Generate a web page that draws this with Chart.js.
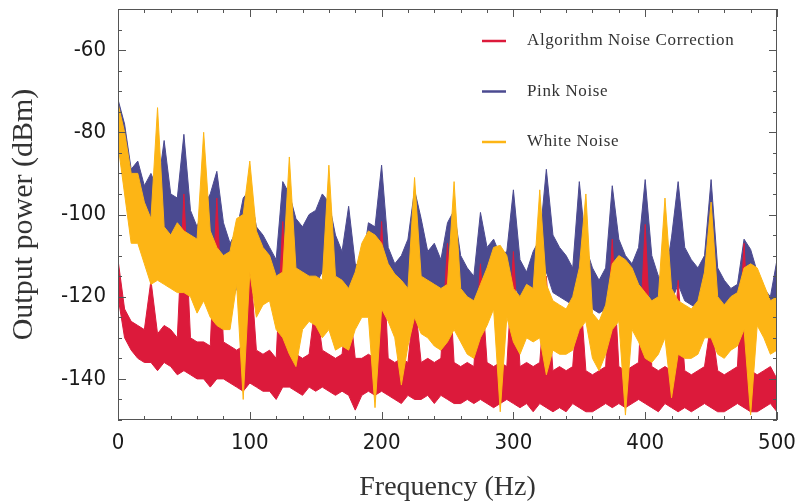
<!DOCTYPE html>
<html>
<head>
<meta charset="utf-8">
<script src="https://cdn.jsdelivr.net/npm/chart.js@4.4.0/dist/chart.umd.min.js"></script>
<style>
  html, body { margin: 0; padding: 0; background: #fff; }
</style>
</head>
<body>
<canvas id="myChart" width="800" height="504"></canvas>
<script>
var binWidth = 5;
var frequencies = Array.from({ length: 101 }, function (_, i) { return i * binWidth; });

var seriesNames = ['Algorithm Noise Correction', 'Pink Noise', 'White Noise'];
var xTicks = [0, 100, 200, 300, 400, 500];
var yTicks = [-140, -120, -100, -80, -60];

var algorithmHigh = [
  -111, -123, -126, -127, -128, -116, -129, -127, -128, -130,
  -95, -130, -131, -131, -132, -96, -131, -132, -133, -132,
  -110, -133, -134, -133, -135, -101.7, -133, -134, -135, -134,
  -121, -133, -134, -135, -134, -120, -135, -135, -134, -135,
  -101.7, -135, -136, -135, -136, -120, -136, -135, -136, -135,
  -107, -136, -137, -136, -137, -112, -136, -137, -136, -137,
  -109, -137, -136, -137, -136, -115, -138, -137, -138, -137,
  -115, -138, -139, -138, -137, -106, -137, -138, -137, -136,
  -102.4, -137, -138, -137, -138, -116, -138, -139, -138, -137,
  -126, -138, -139, -138, -137, -107, -138, -139, -138, -137, -140
];
var algorithmLow = [
  -120, -130, -133, -135, -136, -136, -138, -136, -137, -139,
  -138, -139, -140, -140, -142, -140, -140, -141, -142, -143,
  -141, -142, -143, -143, -145, -142, -142, -143, -144, -142,
  -143, -142, -143, -144, -143, -144, -147.6, -144, -143, -144,
  -143, -144, -145, -146, -144, -145, -145, -144, -146, -144,
  -145, -146, -146, -145, -146, -145, -146, -147, -146, -145,
  -146, -147, -146, -148, -146, -147, -148, -147, -148, -146,
  -147, -148, -148, -147, -146, -147, -146, -147, -146, -145,
  -146, -147, -148, -146, -147, -148, -147, -148, -147, -146,
  -147, -148, -148, -147, -146, -147, -148, -148, -147, -146, -148
];

var pinkHigh = [
  -72, -78, -89, -87, -93, -90, -94, -82, -95, -96,
  -80.5, -99, -103, -98, -95, -89.5, -102, -107, -104, -96,
  -94, -103, -105, -108, -111, -92, -95, -101, -103, -100,
  -99, -95, -97, -105, -109, -98, -112, -113, -102, -103,
  -88, -108, -112, -110, -106, -94, -101, -109, -107, -111,
  -102, -99, -110, -113, -115, -99.5, -108, -106, -110, -109,
  -94, -111, -114, -109, -106, -89, -105, -108, -110, -113,
  -92, -108, -113, -116, -113, -93, -106, -110, -112, -108,
  -91.5, -110, -115, -116, -105.5, -92, -108, -111, -113, -110,
  -91.5, -113, -116, -118, -117, -106, -108.5, -114, -118, -120, -111
];
var pinkLow = [
  -80, -88, -97, -100, -103, -104, -106, -105, -108, -110,
  -108, -112, -114, -113, -112, -110, -116, -122, -118, -112,
  -110, -116, -117, -119, -121, -114, -112, -115, -117, -116,
  -117, -114, -113, -122, -126, -118, -122, -122, -118, -118,
  -112, -118, -121, -121, -118, -114, -116, -120, -120, -121,
  -118, -116, -121, -123, -124, -118, -120, -119, -121, -121,
  -116, -121, -123, -120, -118, -114, -119, -120, -121, -122,
  -116, -121, -123, -124, -123, -118, -120, -121, -122, -121,
  -116, -122, -124, -125, -121, -117, -121, -122, -123, -122,
  -117, -123, -125, -126, -126, -121, -122, -124, -126, -127, -124
];

var whiteHigh = [
  -73, -80, -90, -90, -97, -101, -74, -103, -105, -102,
  -104, -105, -106, -80, -104, -108, -110, -109, -101, -100,
  -87, -104, -108, -110, -115, -114, -86, -113, -114, -115,
  -115, -116, -88, -115, -116, -118, -114, -107, -104, -105,
  -107, -112, -114.5, -116, -118, -91, -115, -116, -117, -118,
  -117, -92, -118, -120, -121, -117, -113, -108, -107.5, -110,
  -118, -120, -117, -118, -94, -117, -121, -122, -123, -120,
  -113, -95, -124, -126, -122, -112, -110, -111, -113, -117,
  -119, -121, -120, -96, -118, -121, -122, -123, -121, -114,
  -97, -120, -122, -120, -119, -113, -112, -113, -117, -121, -120
];
var whiteLow = [
  -83, -95, -107, -107, -112, -117, -116, -117, -118, -119,
  -119, -120, -124, -121, -125, -127, -128, -128, -117, -145,
  -114, -125, -122, -121, -128, -130, -134, -137, -128, -126,
  -127, -130, -128, -133, -132, -133, -128, -125, -125, -147,
  -123, -126, -130, -141.5, -132, -125, -129, -130, -132, -133,
  -131, -128, -131, -134, -135, -130, -127, -123, -148, -125,
  -131, -134, -130, -131, -130, -139, -133, -134, -134, -133,
  -128, -126, -135, -138, -134, -128, -126, -148.8, -128, -131,
  -135, -136, -134, -130, -144.6, -134, -135, -135, -134, -130,
  -130, -134, -135, -133, -132, -128, -148.8, -127, -130, -134, -133
];

var colors = ['#DC1A3B', '#4B4A90', '#FDB515'];

function toPoints(values) {
  return values.map(function (v, i) { return { x: frequencies[i], y: v }; });
}

// each series is drawn as a filled band between its upper and lower edge
function band(name, high, low, color) {
  return [
    { label: name, data: toPoints(high), borderColor: color, backgroundColor: color, borderWidth: 1, fill: '+1' },
    { label: name + ' (low)', data: toPoints(low), borderColor: color, backgroundColor: color, borderWidth: 1, fill: false }
  ];
}

var serifFont = "'Liberation Serif', 'DejaVu Serif', serif";
var tickFont = "'Liberation Sans Narrow', 'DejaVu Sans Condensed', 'Liberation Sans', sans-serif";

var frameTicks = {
  id: 'frameTicks',
  afterDraw: function (chart) {
    var ctx = chart.ctx, a = chart.chartArea, x = chart.scales.x, y = chart.scales.y;
    ctx.save();
    ctx.strokeStyle = '#555';
    ctx.lineWidth = 1;
    ctx.strokeRect(a.left + 0.5, a.top + 0.5, a.right - a.left - 1, a.bottom - a.top - 1);
    ctx.beginPath();
    for (var f = 0; f <= 500; f += 20) {
      var px = Math.round(x.getPixelForValue(f)) + 0.5;
      var len = f % 100 === 0 ? 8 : 4;
      ctx.moveTo(px, a.bottom); ctx.lineTo(px, a.bottom - len);
      ctx.moveTo(px, a.top); ctx.lineTo(px, a.top + len);
    }
    for (var d = -150; d <= -50; d += 5) {
      var py = Math.round(y.getPixelForValue(d)) + 0.5;
      var l = d % 20 === 0 ? 8 : 4;
      ctx.moveTo(a.left, py); ctx.lineTo(a.left + l, py);
      ctx.moveTo(a.right, py); ctx.lineTo(a.right - l, py);
    }
    ctx.stroke();
    ctx.restore();
  }
};

var insideLegend = {
  id: 'insideLegend',
  afterDraw: function (chart) {
    var ctx = chart.ctx;
    ctx.save();
    ctx.font = '17px ' + serifFont;
    ctx.letterSpacing = '0.6px';
    ctx.textBaseline = 'middle';
    ctx.fillStyle = '#333';
    seriesNames.forEach(function (name, i) {
      var yy = 41 + i * 50.5;
      ctx.strokeStyle = colors[i];
      ctx.lineWidth = 2.5;
      ctx.beginPath();
      ctx.moveTo(482, yy); ctx.lineTo(506, yy);
      ctx.stroke();
      ctx.fillText(name, 527, yy);
    });
    ctx.restore();
  }
};

var ctx = document.getElementById('myChart');
new Chart(ctx, {
  type: 'line',
  data: {
    datasets: [].concat(
      band(seriesNames[2], whiteHigh, whiteLow, colors[2]),
      band(seriesNames[0], algorithmHigh, algorithmLow, colors[0]),
      band(seriesNames[1], pinkHigh, pinkLow, colors[1])
    )
  },
  options: {
    responsive: false,
    animation: false,
    devicePixelRatio: 1,
    layout: { padding: { top: 9, right: 23, left: 0, bottom: 0 } },
    elements: { point: { radius: 0 }, line: { tension: 0 } },
    plugins: { legend: { display: false }, tooltip: { enabled: false } },
    scales: {
      x: {
        type: 'linear', min: 0, max: 500,
        grid: { display: false }, border: { display: false },
        afterBuildTicks: function (s) { s.ticks = xTicks.map(function (v) { return { value: v }; }); },
        afterFit: function (s) { s.height = 84; s.paddingLeft = 0; s.paddingRight = 0; },
        ticks: { font: { family: tickFont, size: 22 }, color: '#1a1a1a', padding: 2, maxRotation: 0, autoSkip: false },
        title: { display: true, text: 'Frequency (Hz)', font: { family: serifFont, size: 28 }, color: '#333', padding: { top: 0, bottom: 0 } }
      },
      y: {
        type: 'linear', min: -150, max: -50,
        grid: { display: false }, border: { display: false },
        afterBuildTicks: function (s) { s.ticks = yTicks.map(function (v) { return { value: v }; }); },
        afterFit: function (s) { s.width = 118; s.paddingTop = 0; s.paddingBottom = 0; },
        ticks: { font: { family: tickFont, size: 22 }, color: '#1a1a1a', padding: 4 },
        title: { display: true, text: 'Output power (dBm)', font: { family: serifFont, size: 30 }, color: '#333', padding: { top: 6, bottom: 0 } }
      }
    }
  },
  plugins: [frameTicks, insideLegend]
});
</script>
</body>
</html>
